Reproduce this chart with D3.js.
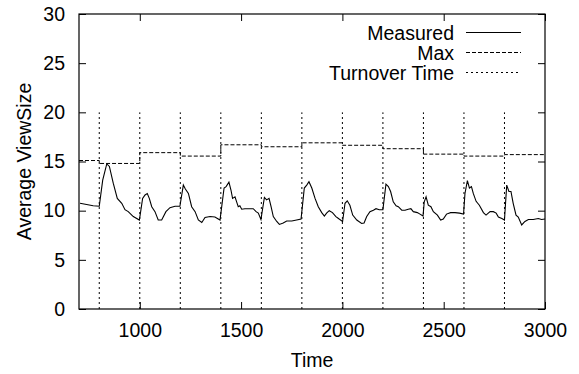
<!DOCTYPE html>
<html>
<head>
<meta charset="utf-8">
<script src="https://cdn.jsdelivr.net/npm/d3@7"></script>
<style>
  body { margin: 0; background: #fff; }
  text { font-family: "Liberation Sans", Arial, sans-serif; fill: #000; }
</style>
</head>
<body>
<script>
// measured average view size
var measuredTime = [705, 770, 800, 817, 837, 850, 869, 889, 911, 927, 943, 968, 998,
  1014, 1026, 1037, 1047, 1059, 1075, 1091, 1108, 1129, 1149, 1174, 1198,
  1215, 1225, 1240, 1256, 1273, 1289, 1306, 1322, 1347, 1371, 1396,
  1416, 1426, 1440, 1450, 1458, 1470, 1478, 1486, 1494, 1503, 1519, 1544, 1560, 1574, 1585, 1598,
  1615, 1626, 1638, 1648, 1659, 1676, 1689, 1708, 1725, 1750, 1774, 1796,
  1812, 1824, 1835, 1849, 1865, 1881, 1898, 1911, 1922, 1935, 1951, 1968, 1984, 2001,
  2013, 2024, 2037, 2051, 2071, 2095, 2107, 2120, 2136, 2153, 2166, 2182, 2200,
  2215, 2227, 2238, 2251, 2265, 2276, 2293, 2309, 2325, 2338, 2350, 2370, 2383, 2398,
  2404, 2413, 2424, 2437, 2449, 2469, 2485, 2498, 2514, 2534, 2556, 2578, 2598,
  2605, 2617, 2627, 2637, 2646, 2660, 2676, 2696, 2709, 2729, 2745, 2759, 2770, 2787, 2800,
  2811, 2822, 2832, 2843, 2857, 2868, 2885, 2901, 2918, 2942, 2967, 2983, 3000];
var measuredValue = [10.75, 10.5, 10.45, 13.1, 14.75, 14.5, 12.8, 11.25, 10.75, 10.1, 9.9, 9.4, 9.05,
  11.25, 11.6, 11.75, 11.25, 10.4, 9.9, 9.05, 9.05, 9.9, 10.3, 10.45, 10.45,
  12.6, 12.2, 11.75, 10.4, 9.9, 9.05, 8.8, 9.3, 9.4, 9.35, 9.05,
  12.3, 12.45, 12.9, 12.1, 11.25, 11.4, 10.9, 10.4, 10.5, 10.15, 10.2, 10.2, 10.2, 9.9, 9.75, 9.1,
  11.35, 11.1, 11.25, 10.4, 9.4, 8.9, 8.6, 8.75, 8.95, 8.95, 9.05, 9.15,
  12.3, 12.6, 12.95, 12.3, 11.25, 10.4, 9.8, 9.45, 9.75, 10.0, 9.8, 9.4, 9.15, 8.9,
  10.75, 11.0, 10.55, 9.55, 9.05, 8.7, 8.75, 9.4, 9.9, 10.05, 10.2, 10.1, 10.1,
  12.7, 12.45, 11.95, 10.9, 10.5, 10.4, 10.05, 10.05, 10.15, 10.2, 9.9, 9.8, 9.65, 9.45,
  10.9, 11.4, 10.55, 10.4, 9.9, 9.55, 9.05, 9.15, 9.65, 9.8, 9.8, 9.75, 9.65,
  11.75, 13.05, 12.3, 12.45, 11.75, 10.95, 10.55, 9.8, 9.55, 9.9, 9.9, 9.75, 9.35, 9.2, 9.05,
  12.6, 11.95, 11.95, 10.75, 9.55, 9.35, 8.55, 8.9, 9.1, 9.1, 9.2, 9.1, 9.15];

// max view size per turnover period (step function)
var maxTime = [700, 800, 1000, 1200, 1400, 1600, 1800, 2000, 2200, 2400, 2600, 2800, 3000];
var maxValue = [15.1, 14.8, 15.9, 15.55, 16.7, 16.5, 16.9, 16.65, 16.3, 15.75, 15.55, 15.7, 15.7];

// turnover instants, drawn up to this height
var turnoverTime = [800, 1000, 1200, 1400, 1600, 1800, 2000, 2200, 2400, 2600, 2800];
var turnoverHeight = 20;

var xTicks = [1000, 1500, 2000, 2500, 3000];
var yTicks = [0, 5, 10, 15, 20, 25, 30];
var legendLabels = ['Measured', 'Max', 'Turnover Time'];

var width = 579, height = 374;
var margin = {left: 79, right: 34, top: 14, bottom: 65};
var fontSize = '19.5px';

var svg = d3.select('body').append('svg')
    .attr('width', width)
    .attr('height', height);

var x = d3.scaleLinear().domain([700, 3000]).range([margin.left, width - margin.right]);
var y = d3.scaleLinear().domain([0, 30]).range([height - margin.bottom, margin.top]);

// axes, gnuplot style: inward ticks mirrored on all sides
var tickLen = 7;
var noDomain = function(g) { g.select('.domain').remove(); };
svg.append('g')
    .attr('transform', 'translate(0,' + y(0) + ')')
    .call(d3.axisBottom(x).tickValues(xTicks).tickFormat(d3.format('d')).tickSize(-tickLen).tickPadding(14).tickSizeOuter(0))
    .call(noDomain);
svg.append('g')
    .attr('transform', 'translate(0,' + y(30) + ')')
    .call(d3.axisTop(x).tickValues(xTicks).tickSize(-tickLen).tickFormat('').tickSizeOuter(0))
    .call(noDomain);
svg.append('g')
    .attr('transform', 'translate(' + x(700) + ',0)')
    .call(d3.axisLeft(y).tickValues(yTicks).tickSize(-tickLen).tickPadding(14).tickSizeOuter(0))
    .call(noDomain);
svg.append('g')
    .attr('transform', 'translate(' + x(3000) + ',0)')
    .call(d3.axisRight(y).tickValues(yTicks).tickSize(-tickLen).tickFormat('').tickSizeOuter(0))
    .call(noDomain);

svg.selectAll('.tick text')
    .style('font-size', fontSize)
    .style('font-family', '"Liberation Sans", Arial, sans-serif');
svg.selectAll('.tick line').attr('stroke', '#000');

// frame
svg.append('rect')
    .attr('x', x(700)).attr('y', y(30))
    .attr('width', x(3000) - x(700)).attr('height', y(0) - y(30))
    .attr('fill', 'none').attr('stroke', '#000').attr('stroke-width', 1.2);

// turnover lines
svg.selectAll('.turnover')
    .data(turnoverTime)
    .enter().append('line')
    .attr('class', 'turnover')
    .attr('x1', function(d) { return x(d); })
    .attr('x2', function(d) { return x(d); })
    .attr('y1', y(0))
    .attr('y2', y(turnoverHeight))
    .attr('stroke', '#000')
    .attr('stroke-width', 1)
    .attr('stroke-dasharray', '2,3');

// max step line
var maxLine = d3.line()
    .x(function(d, i) { return x(maxTime[i]); })
    .y(function(d) { return y(d); })
    .curve(d3.curveStepAfter);
svg.append('path')
    .attr('d', maxLine(maxValue))
    .attr('fill', 'none')
    .attr('stroke', '#000')
    .attr('stroke-width', 1)
    .attr('stroke-dasharray', '4,2');

// measured line
var measLine = d3.line()
    .x(function(d, i) { return x(measuredTime[i]); })
    .y(function(d) { return y(d); });
svg.append('path')
    .attr('d', measLine(measuredValue))
    .attr('fill', 'none')
    .attr('stroke', '#000')
    .attr('stroke-width', 1.1);

// legend
var dashes = [null, '4,2', '2,3'];
var legend = svg.append('g');
legendLabels.forEach(function(label, i) {
    var ly = 32.5 + i * 20;
    legend.append('text')
        .attr('x', 454).attr('y', ly + 7)
        .attr('text-anchor', 'end')
        .style('font-size', fontSize)
        .text(label);
    legend.append('line')
        .attr('x1', 466).attr('x2', 521)
        .attr('y1', ly).attr('y2', ly)
        .attr('stroke', '#000')
        .attr('stroke-width', 1)
        .attr('stroke-dasharray', dashes[i]);
});

// axis titles
svg.append('text')
    .attr('x', (x(700) + x(3000)) / 2)
    .attr('y', 367)
    .attr('text-anchor', 'middle')
    .style('font-size', fontSize)
    .text('Time');
svg.append('text')
    .attr('transform', 'translate(31,' + (y(0) + y(30)) / 2 + ') rotate(-90)')
    .attr('text-anchor', 'middle')
    .style('font-size', fontSize)
    .text('Average ViewSize');
</script>
</body>
</html>
